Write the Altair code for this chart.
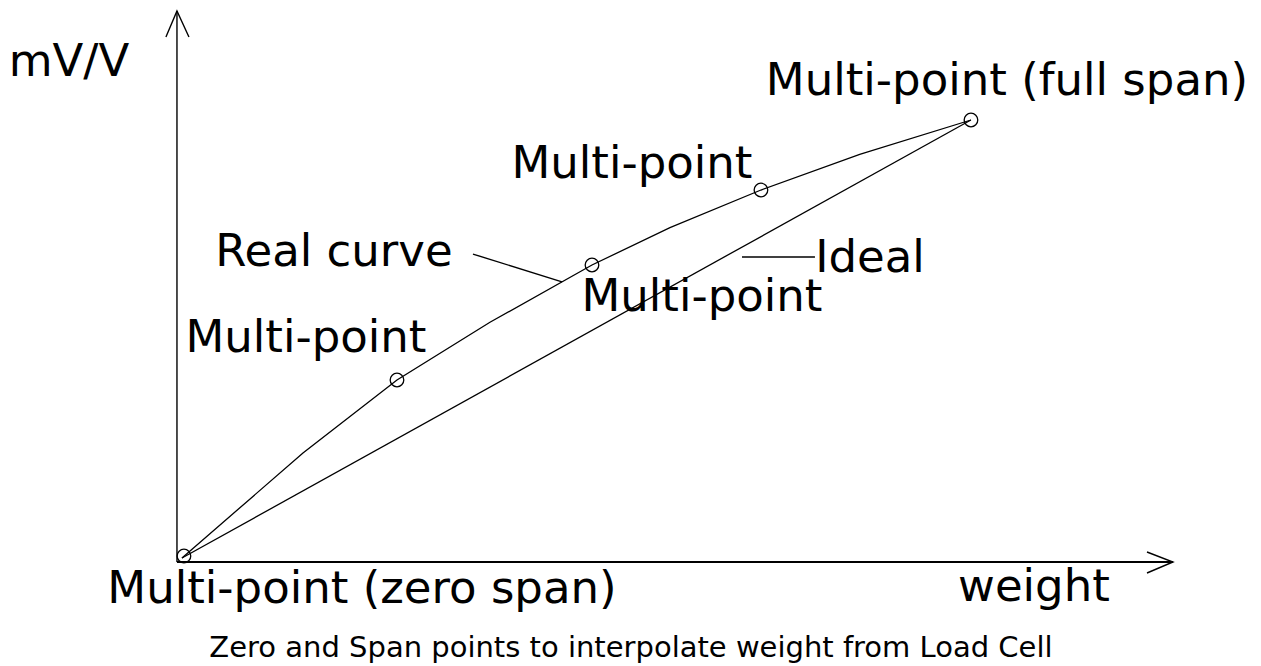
import altair as alt
import pandas as pd

# ---- diagram values (weight units on x, mV/V units on y; full span = 100/100) ----
curve_w = [0.63, 15.87, 27.71, 39.42, 52.27, 62.09, 73.55, 85.99, 100.0]
curve_v = [0.90, 24.66, 41.18, 54.23, 67.19, 75.66, 84.16, 92.22, 100.0]

point_w = [0.88, 27.71, 52.27, 73.55, 100.0]
point_v = [1.36, 41.18, 67.19, 84.16, 100.0]

ideal_w = [0.63, 100.0]
ideal_v = [0.90, 100.0]

# axes with arrow heads
yaxis_w = [0.0, 0.0]
yaxis_v = [0.0, 124.66]
yarrow_w = [-1.39, 0.0, 1.51]
yarrow_v = [118.78, 124.66, 118.78]
xaxis_w = [0.0, 125.44]
xaxis_v = [0.0, 0.0]
xarrow_w = [122.17, 125.44, 122.17]
xarrow_v = [2.26, 0.0, -2.49]

# leader lines
leader_real_w = [37.28, 48.49]
leader_real_v = [69.68, 63.35]
leader_ideal_w = [71.16, 80.35]
leader_ideal_v = [69.0, 69.0]

# labels
label_text = ["mV/V", "Multi-point (full span)", "Multi-point", "Real curve", "Ideal",
              "Multi-point", "Multi-point", "Multi-point (zero span)", "weight"]
label_w = [-13.60, 104.53, 57.30, 19.77, 87.28, 66.12, 16.25, 23.30, 107.93]
label_v = [109.95, 105.66, 86.88, 66.97, 65.60, 56.79, 47.51, -9.28, -8.82]

caption_text = ["Zero and Span points to interpolate weight from Load Cell"]
caption_w = [57.18]
caption_v = [-21.49]

XMIN, XMAX = -21.28, 135.52
YMIN, YMAX = -23.53, 125.34

xs = alt.Scale(domain=[XMIN, XMAX], nice=False, zero=False)
ys = alt.Scale(domain=[YMIN, YMAX], nice=False, zero=False)


def seg_df(groups):
    rows = []
    for gi, (ws, vs) in enumerate(groups):
        for i, (w, v) in enumerate(zip(ws, vs)):
            rows.append({"seg": gi, "i": i, "w": w, "v": v})
    return pd.DataFrame(rows)


def lines(df, width):
    return alt.Chart(df).mark_line(color="black", strokeWidth=width, strokeCap="butt").encode(
        x=alt.X("w:Q", scale=xs, axis=None),
        y=alt.Y("v:Q", scale=ys, axis=None),
        detail="seg:N",
        order="i:Q",
    )


thin = seg_df([(curve_w, curve_v), (ideal_w, ideal_v), (leader_real_w, leader_real_v),
               (leader_ideal_w, leader_ideal_v)])
axis_thin = seg_df([(yaxis_w, yaxis_v), (yarrow_w, yarrow_v), (xarrow_w, xarrow_v)])
axis_thick = seg_df([(xaxis_w, xaxis_v)])

points = pd.DataFrame({"w": point_w, "v": point_v})
circles = alt.Chart(points).mark_point(shape="circle", filled=False, size=185,
                                       color="black", strokeWidth=1.3, opacity=1).encode(
    x=alt.X("w:Q", scale=xs, axis=None),
    y=alt.Y("v:Q", scale=ys, axis=None),
)

labels = pd.DataFrame({"t": label_text, "w": label_w, "v": label_v})
label_layer = alt.Chart(labels).mark_text(font="DejaVu Sans", fontSize=45, color="black",
                                          align="center", baseline="alphabetic").encode(
    x=alt.X("w:Q", scale=xs, axis=None),
    y=alt.Y("v:Q", scale=ys, axis=None),
    text="t:N",
)

caption = pd.DataFrame({"t": caption_text, "w": caption_w, "v": caption_v})
caption_layer = alt.Chart(caption).mark_text(font="DejaVu Sans", fontSize=29, color="black",
                                             align="center", baseline="alphabetic").encode(
    x=alt.X("w:Q", scale=xs, axis=None),
    y=alt.Y("v:Q", scale=ys, axis=None),
    text="t:N",
)

chart = alt.layer(
    lines(thin, 1.3),
    lines(axis_thin, 1.4),
    lines(axis_thick, 2.2),
    circles,
    label_layer,
    caption_layer,
).properties(
    width=1245, height=658, padding=0,
    autosize=alt.AutoSizeParams(type="none"),
    background="white",
).configure_view(stroke=None)

chart.save("out.html", embed_options={"renderer": "svg", "actions": False})
